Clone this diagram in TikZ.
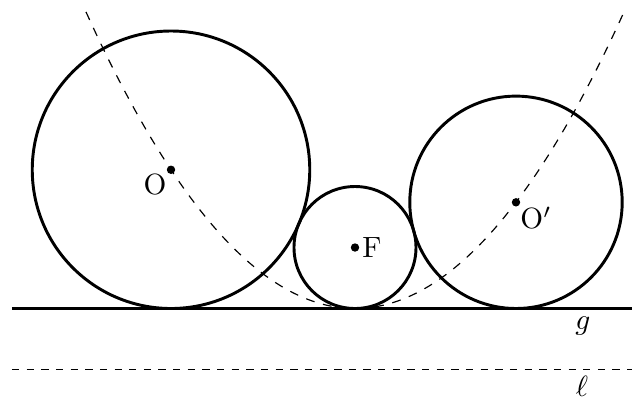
\documentclass[tikz,border=0pt]{standalone}
\usepackage{amsmath,amssymb}
\usepackage{tikz}
\usepackage{xcolor}

\begin{document}
\begin{tikzpicture}[scale=0.12]
\useasboundingbox (-35.5,-9.05) rectangle (27.7,30.85);
\draw[line width=1pt] (-34.3,0) -- (27.7,0);
\node (g) at (22.8,-1.75) {$g$};
\draw[dash pattern=on 2.5pt off 2.5pt] (-34.3,-6.1) -- (27.7,-6.1);
\node (l) at (22.7,-7.8) {$\ell$};
\draw[dashed, domain=-26.9:26.9, samples=100] plot (\x, {\x*\x/24.4});
\coordinate (F) at (0,6.1); \coordinate (O) at (-18.4,13.875); \coordinate (Op) at (16.1,10.62);
\draw[line width=1pt] (F) circle (6.1);
\draw[line width=1pt] (O) circle (13.875);
\draw[line width=1pt] (Op) circle (10.62);
\fill (F) circle (0.42); \node[right=-1pt] (Flab) at (F) {F};
\fill (O) circle (0.42); \node[below left=-2pt] (Olab) at (O) {O};
\fill (Op) circle (0.42); \node[below right=-2pt] (Oplab) at (Op) {O$'$};
\end{tikzpicture}
\end{document}
